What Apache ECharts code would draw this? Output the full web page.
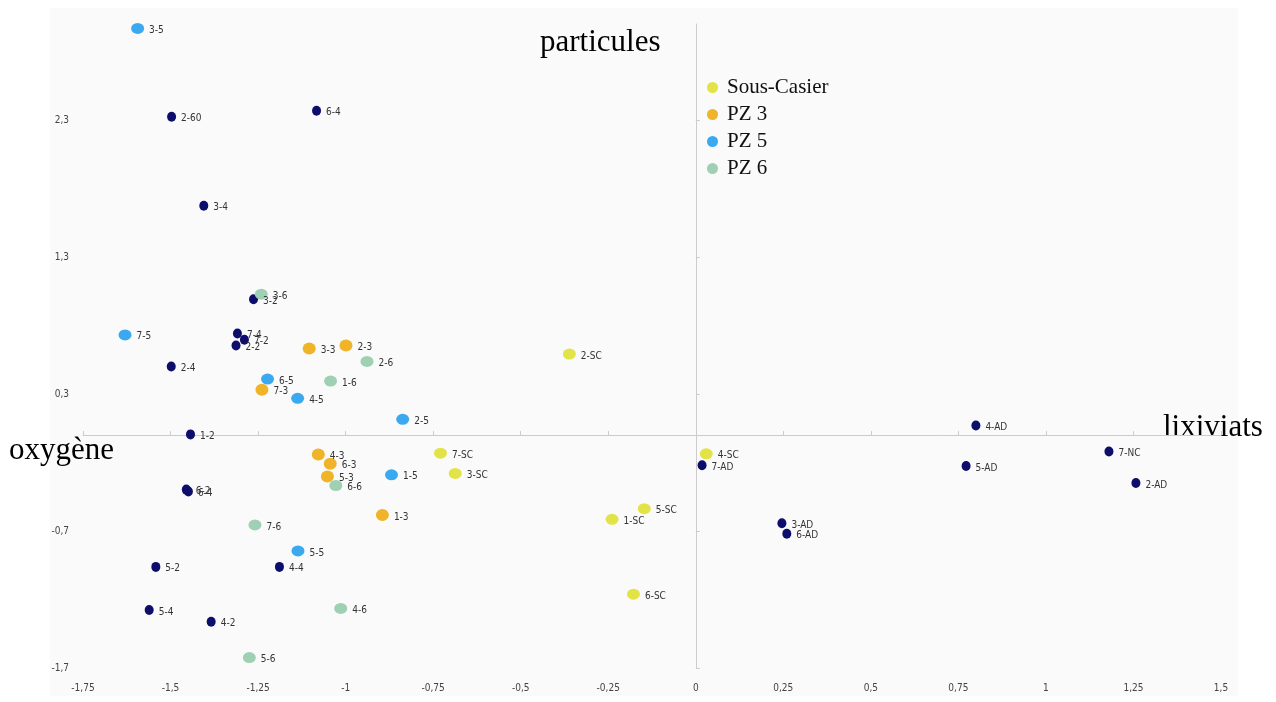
<!DOCTYPE html>
<html>
<head>
<meta charset="utf-8">
<script src="https://cdn.jsdelivr.net/npm/echarts@6/dist/echarts.min.js"></script>
<style>
    html, body { margin: 0; padding: 0; background: #fff; }
    #main { width: 1276px; height: 702px; }
</style>
</head>
<body>
<div id="main"></div>
<script>
// graduations
var xTicks = [-1.75, -1.5, -1.25, -1, -0.75, -0.5, -0.25, 0, 0.25, 0.5, 0.75, 1, 1.25, 1.5];
var yTicks = [-1.7, -0.7, 0.3, 1.3, 2.3];

// Sous-Casier
var scNames = ['1-SC', '2-SC', '3-SC', '4-SC', '5-SC', '6-SC', '7-SC'];
var scX = [-0.239, -0.361, -0.687, 0.030, -0.147, -0.178, -0.729];
var scY = [-0.615, 0.591, -0.280, -0.137, -0.537, -1.161, -0.132];

// PZ 3
var pz3Names = ['1-3', '2-3', '3-3', '4-3', '5-3', '6-3', '7-3'];
var pz3X = [-0.895, -0.999, -1.104, -1.078, -1.052, -1.044, -1.239];
var pz3Y = [-0.583, 0.654, 0.632, -0.142, -0.302, -0.210, 0.331];

// PZ 5
var pz5Names = ['1-5', '2-5', '3-5', '4-5', '5-5', '6-5', '7-5'];
var pz5X = [-0.869, -0.837, -1.594, -1.137, -1.136, -1.223, -1.630];
var pz5Y = [-0.290, 0.115, 2.968, 0.268, -0.846, 0.409, 0.731];

// PZ 6
var pz6Names = ['1-6', '2-6', '3-6', '4-6', '5-6', '6-6', '7-6'];
var pz6X = [-1.043, -0.939, -1.241, -1.014, -1.275, -1.028, -1.259];
var pz6Y = [0.394, 0.537, 1.028, -1.265, -1.624, -0.368, -0.656];

// autres points (hors légende)
var autresNames = ['2-60', '6-4', '3-4', '3-2', '7-4', '7-2', '2-2', '2-4', '1-2', '6-2', '6-4',
    '5-2', '4-4', '5-4', '4-2', '4-AD', '7-NC', '5-AD', '2-AD', '7-AD', '3-AD', '6-AD'];
var autresX = [-1.497, -1.083, -1.405, -1.263, -1.309, -1.289, -1.313, -1.498, -1.443, -1.455, -1.449,
    -1.542, -1.189, -1.561, -1.384, 0.800, 1.180, 0.772, 1.257, 0.018, 0.246, 0.260];
var autresY = [2.323, 2.367, 1.673, 0.991, 0.741, 0.695, 0.654, 0.500, 0.005, -0.398, -0.412,
    -0.962, -0.962, -1.277, -1.362, 0.070, -0.120, -0.226, -0.350, -0.220, -0.643, -0.720];

function toPoints(names, xs, ys) {
    var out = [];
    for (var i = 0; i < names.length; i++) {
        out.push([xs[i], ys[i], names[i]]);
    }
    return out;
}

function fmt(v) {
    var r = Math.round(v * 100) / 100;
    return String(r).replace('.', ',');
}

var tickFont = "'DejaVu Sans Condensed', 'Liberation Sans Narrow', 'Roboto', sans-serif";
var serifFont = "'Liberation Serif', 'DejaVu Serif', serif";

var pointLabel = {
    show: true,
    position: 'right',
    distance: 5,
    offset: [0, 2],
    color: '#333',
    fontSize: 10,
    fontFamily: tickFont,
    formatter: function (p) { return p.value[2]; }
};

function makeSeries(name, data, color, size) {
    return {
        name: name,
        type: 'scatter',
        xAxisIndex: 0,
        yAxisIndex: 0,
        data: data,
        symbol: 'circle',
        symbolSize: size,
        itemStyle: { color: color, opacity: 1 },
        label: pointLabel,
        emphasis: { disabled: true }
    };
}

var chart = echarts.init(document.getElementById('main'));

var option = {
    animation: false,
    backgroundColor: '#ffffff',
    grid: { left: 83, right: 55, top: 24, bottom: 34 },
    graphic: [
        {
            type: 'rect', z: -10, silent: true,
            shape: { x: 50, y: 8, width: 1188, height: 688 },
            style: { fill: '#fafafa' }
        },
        {
            type: 'text', left: 540, top: 27,
            style: { text: 'particules', font: '31px ' + serifFont, fill: '#000' }
        },
        {
            type: 'text', left: 9, top: 435,
            style: { text: 'oxygène', font: '31px ' + serifFont, fill: '#000' }
        },
        {
            type: 'text', left: 1163, top: 412,
            style: { text: 'lixiviats', font: '31px ' + serifFont, fill: '#000' }
        }
    ],
    legend: {
        orient: 'vertical',
        left: 702,
        top: 72,
        icon: 'circle',
        itemWidth: 19,
        itemHeight: 11,
        itemGap: 6,
        selectedMode: false,
        data: ['Sous-Casier', 'PZ 3', 'PZ 5', 'PZ 6'],
        textStyle: { fontFamily: serifFont, fontSize: 21, color: '#111' }
    },
    xAxis: [
        {
            type: 'value', min: -1.75, max: 1.5, interval: 0.25,
            position: 'bottom',
            axisLine: { show: false, onZero: false },
            axisTick: { show: false },
            splitLine: { show: false },
            axisLabel: {
                margin: 15, color: '#444', fontSize: 10, fontFamily: tickFont,
                formatter: fmt
            }
        },
        {
            type: 'value', min: -1.75, max: 1.5, interval: 0.25,
            axisLine: { show: true, onZero: true, lineStyle: { color: '#cccccc', width: 1 } },
            axisTick: { show: true, length: 4, lineStyle: { color: '#cccccc' } },
            splitLine: { show: false },
            axisLabel: { show: false }
        }
    ],
    yAxis: [
        {
            type: 'value', min: -1.7, max: 3.0, interval: 1,
            position: 'left',
            axisLine: { show: false, onZero: false },
            axisTick: { show: false },
            splitLine: { show: false },
            axisLabel: {
                margin: 14, color: '#444', fontSize: 10, fontFamily: tickFont,
                customValues: yTicks,
                formatter: fmt
            }
        },
        {
            type: 'value', min: -1.7, max: 3.0, interval: 1,
            axisLine: { show: true, onZero: true, lineStyle: { color: '#cccccc', width: 1 } },
            axisTick: { show: true, length: 4, customValues: yTicks, lineStyle: { color: '#cccccc' } },
            splitLine: { show: false },
            axisLabel: { show: false }
        }
    ],
    series: [
        makeSeries('Autres', toPoints(autresNames, autresX, autresY), '#0d0d6b', [9, 10]),
        makeSeries('Sous-Casier', toPoints(scNames, scX, scY), '#e2e347', [13, 11]),
        makeSeries('PZ 3', toPoints(pz3Names, pz3X, pz3Y), '#efb428', [13, 12]),
        makeSeries('PZ 5', toPoints(pz5Names, pz5X, pz5Y), '#3ba9ef', [13, 11]),
        makeSeries('PZ 6', toPoints(pz6Names, pz6X, pz6Y), '#9fd0b3', [13, 11])
    ]
};

chart.setOption(option);
window.addEventListener('resize', function () {
    chart.resize();
});
</script>
</body>
</html>
